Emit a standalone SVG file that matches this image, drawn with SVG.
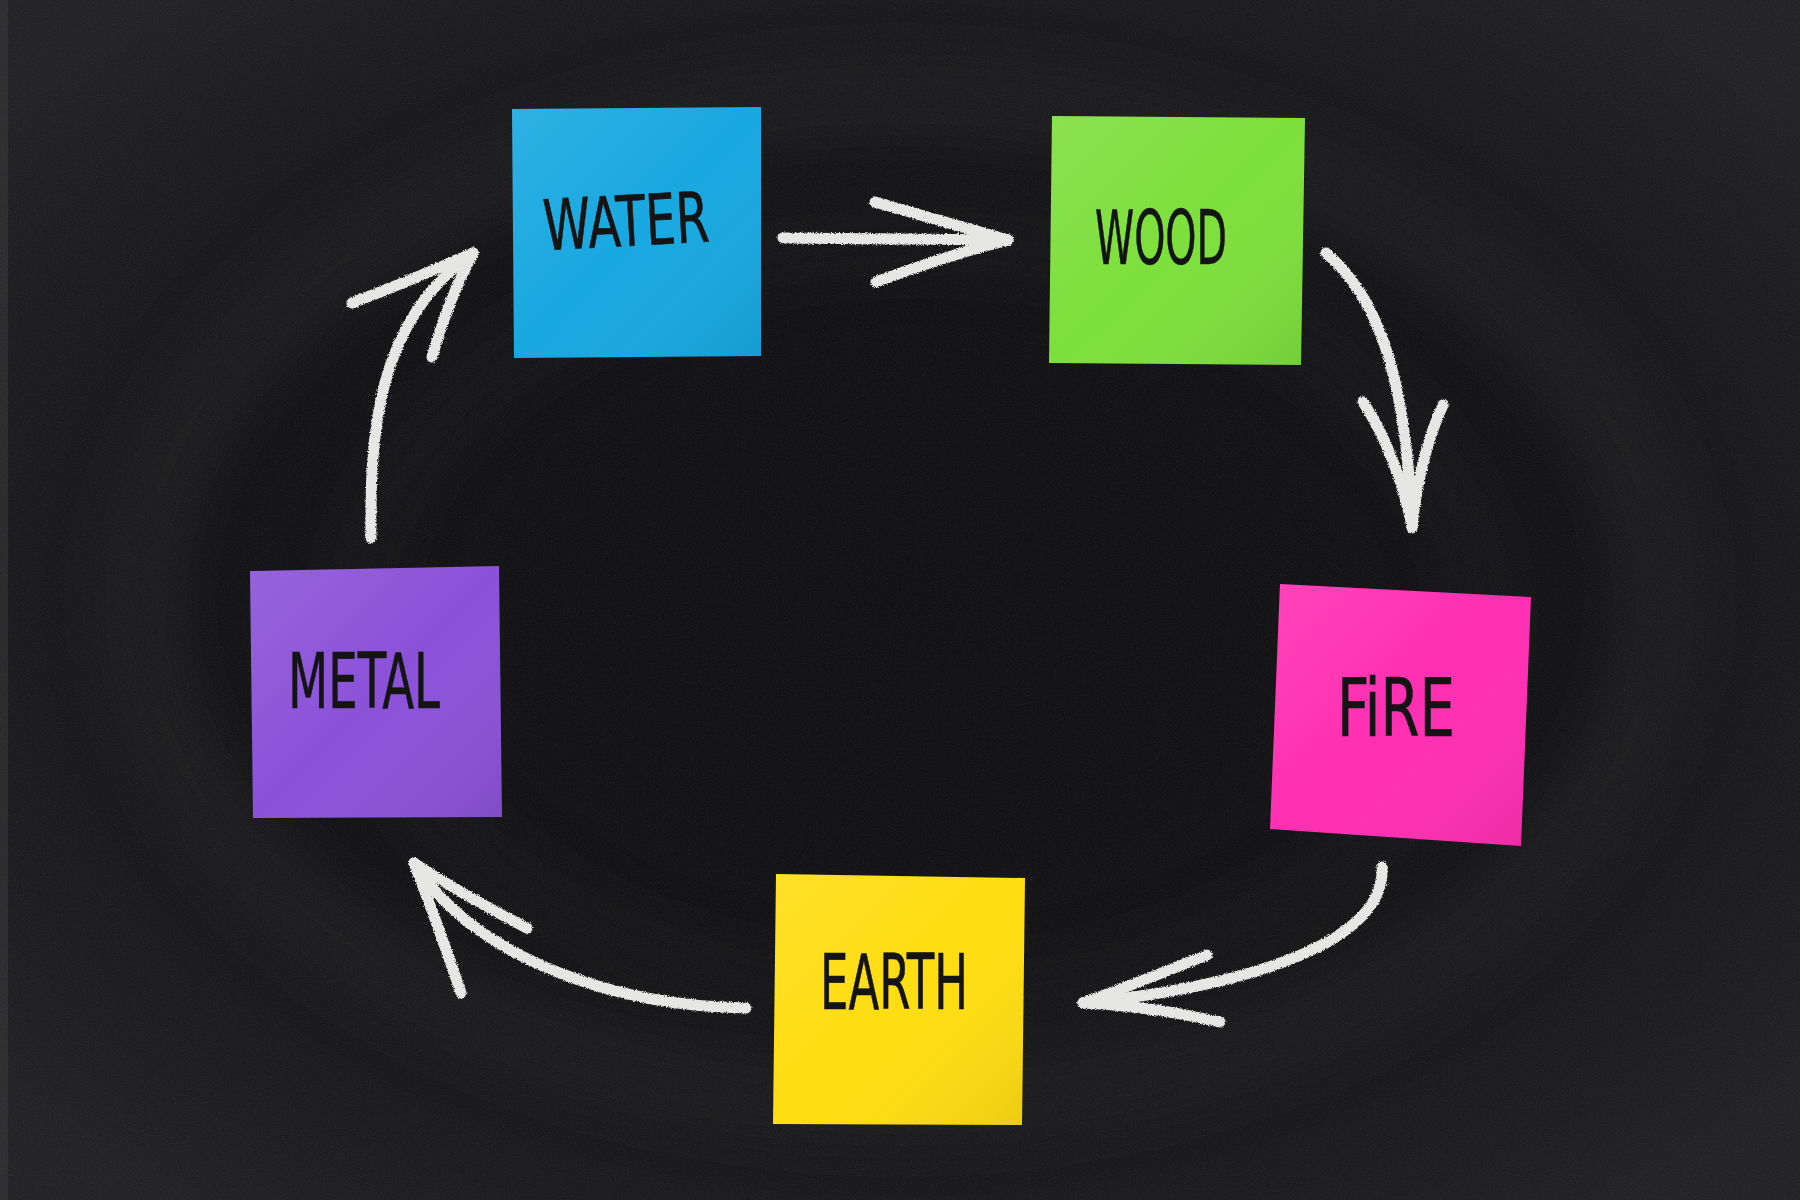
<svg xmlns="http://www.w3.org/2000/svg" width="1800" height="1200" viewBox="0 0 1800 1200">
<defs>
<radialGradient id="board" cx="50%" cy="50%" r="65%">
<stop offset="0" stop-color="#111113"/>
<stop offset="0.6" stop-color="#151517"/>
<stop offset="1" stop-color="#232325"/>
</radialGradient>
<filter id="grain" x="0" y="0" width="100%" height="100%">
<feTurbulence type="fractalNoise" baseFrequency="0.85" numOctaves="2" seed="3" result="n"/>
<feColorMatrix in="n" type="matrix" values="0 0 0 0 1  0 0 0 0 1  0 0 0 0 1  0 0 0 0.35 -0.14"/>
</filter>
<filter id="blur" x="-20%" y="-20%" width="140%" height="140%">
<feGaussianBlur stdDeviation="30"/>
</filter>
<filter id="chalk" x="-10%" y="-10%" width="120%" height="120%">
<feTurbulence type="fractalNoise" baseFrequency="1.1" numOctaves="2" seed="7" result="n"/>
<feDisplacementMap in="SourceGraphic" in2="n" scale="4" xChannelSelector="R" yChannelSelector="G"/>
</filter>
<linearGradient id="sheen" x1="0" y1="0" x2="1" y2="1">
<stop offset="0" stop-color="#fff" stop-opacity="0.10"/>
<stop offset="0.5" stop-color="#fff" stop-opacity="0"/>
<stop offset="1" stop-color="#000" stop-opacity="0.08"/>
</linearGradient>
<style>
.note text{font-family:"Liberation Sans Narrow","DejaVu Sans Condensed","Liberation Sans",sans-serif;fill:#141414;stroke:#141414;stroke-width:0.6;stroke-linejoin:round}
.chalk path{fill:none;stroke:#e6e6e4;stroke-width:11;stroke-linecap:round;stroke-linejoin:round}
.sheen{fill:url(#sheen)}
</style>
</defs>
<rect width="1800" height="1200" fill="url(#board)"/>
<g filter="url(#blur)" opacity="0.4" fill="none" stroke="#2e2e30">
<ellipse cx="900" cy="600" rx="760" ry="500" stroke-width="70"/>
<ellipse cx="920" cy="620" rx="560" ry="380" stroke-width="50" opacity="0.6"/>
</g>
<rect x="0" y="0" width="8" height="1200" fill="#3a3a3a" opacity="0.5"/>
<rect width="1800" height="1200" filter="url(#grain)" opacity="0.3"/>

<g id="node-water" class="note">
<polygon points="512,109 761,107 761,356 514,358" fill="#18a8e0"/>
<polygon class="sheen" points="512,109 761,107 761,356 514,358"/>
<text x="626" y="246" font-size="70" text-anchor="middle" textLength="166" lengthAdjust="spacingAndGlyphs" transform="rotate(-3 626 220)">WATER</text>
</g>
<g id="node-wood" class="note">
<polygon points="1052,116 1305,118 1301,365 1049,363" fill="#7ddf3c"/>
<polygon class="sheen" points="1052,116 1305,118 1301,365 1049,363"/>
<text x="1161" y="264" font-size="75" text-anchor="middle" textLength="132" lengthAdjust="spacingAndGlyphs">WOOD</text>
</g>
<g id="node-fire" class="note">
<polygon points="1280,584 1531,597 1521,846 1270,829" fill="#ff2fb2"/>
<polygon class="sheen" points="1280,584 1531,597 1521,846 1270,829"/>
<text x="1396" y="736" font-size="80" text-anchor="middle" textLength="118" lengthAdjust="spacingAndGlyphs">FiRE</text>
</g>
<g id="node-earth" class="note">
<polygon points="776,874 1025,878 1022,1125 773,1124" fill="#ffdd12"/>
<polygon class="sheen" points="776,874 1025,878 1022,1125 773,1124"/>
<text x="894" y="1009" font-size="76" text-anchor="middle" textLength="148" lengthAdjust="spacingAndGlyphs">EARTH</text>
</g>
<g id="node-metal" class="note">
<polygon points="250,571 499,566 502,817 253,818" fill="#8b52d8"/>
<polygon class="sheen" points="250,571 499,566 502,817 253,818"/>
<text x="364" y="708" font-size="76" text-anchor="middle" textLength="152" lengthAdjust="spacingAndGlyphs">METAL</text>
</g>

<g id="connectors" class="chalk" filter="url(#chalk)">
<g id="water-to-wood">
<path d="M783,238 L1008,240"/>
<path d="M875,202 Q945,222 1008,240"/>
<path d="M876,282 Q945,256 1008,240"/>
</g>
<g id="wood-to-fire">
<path d="M1326,253 C1372,292 1406,362 1412,528"/>
<path d="M1363,402 Q1396,452 1412,526"/>
<path d="M1443,405 Q1420,455 1412,526"/>
</g>
<g id="fire-to-earth">
<path d="M1382,867 C1386,942 1250,986 1083,1003"/>
<path d="M1207,955 Q1140,982 1083,1003"/>
<path d="M1220,1022 Q1150,1006 1083,1003"/>
</g>
<g id="earth-to-metal">
<path d="M746,1008 C620,1006 478,962 414,863"/>
<path d="M527,928 Q468,898 414,863"/>
<path d="M461,993 Q440,930 414,863"/>
</g>
<g id="metal-to-water">
<path d="M371,538 C370,440 374,322 473,253"/>
<path d="M352,303 Q412,280 473,253"/>
<path d="M432,357 Q448,300 473,253"/>
</g>
</g>
</svg>
